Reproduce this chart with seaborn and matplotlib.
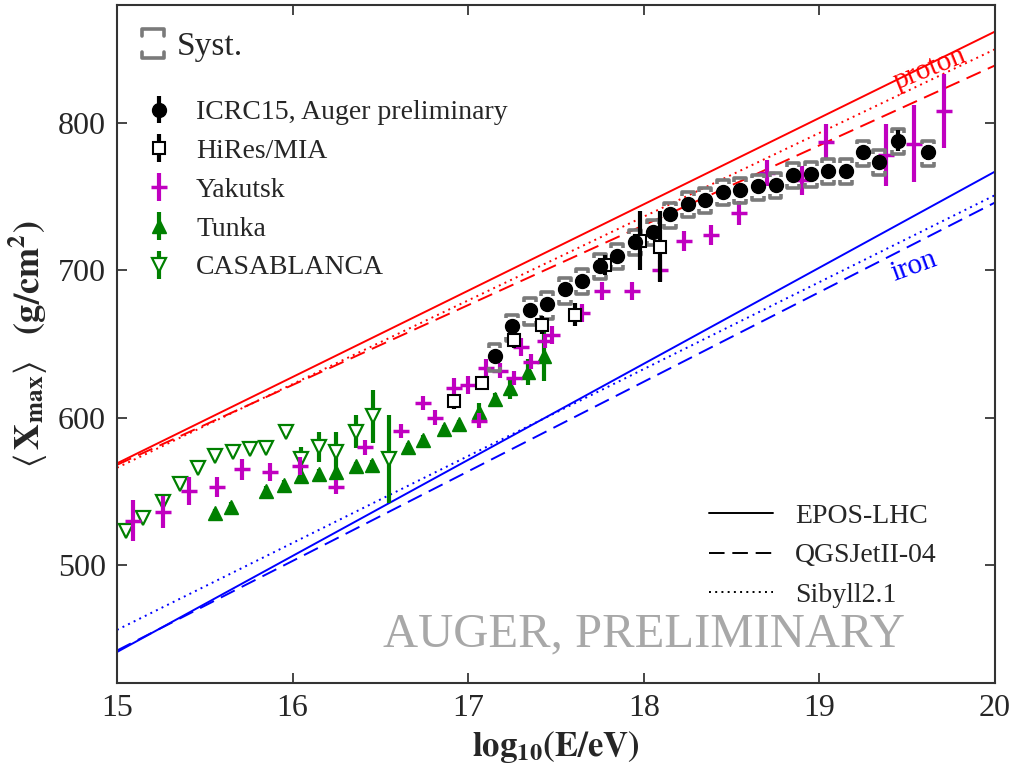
import numpy as np
import pandas as pd
import matplotlib
matplotlib.use("Agg")
import matplotlib.pyplot as plt
import seaborn as sns
from matplotlib.lines import Line2D
from matplotlib.legend_handler import HandlerBase

# ---------------- data ----------------
# Pierre Auger (ICRC 2015, preliminary)
auger_lgE = [17.15, 17.25, 17.35, 17.45, 17.55, 17.65, 17.75, 17.85, 17.95, 18.05,
             18.15, 18.25, 18.35, 18.45, 18.55, 18.65, 18.75, 18.85, 18.95, 19.05,
             19.15, 19.25, 19.34, 19.45, 19.62]
auger_xmax = [642, 662, 673, 677, 687, 693, 703, 710, 719.5, 726,
              738, 745, 748, 753, 754.5, 757, 758, 765, 765.5, 767.5,
              767.5, 780, 773.5, 788, 780]
auger_err = [3, 3, 2, 2, 2, 2, 2, 2, 2, 2,
             2, 2, 2, 2, 2, 2, 2, 2, 3, 3,
             3, 4, 5, 7, 5]
auger_sys_up = [8, 8, 8, 8, 8, 8, 8, 8, 8, 8,
                8, 8, 8, 8, 8, 8, 8, 8, 8, 8,
                8, 8, 8, 8, 8]
auger_sys_lo = [10, 10, 10, 10, 10, 9, 9, 9, 9, 9,
                9, 9, 9, 9, 9, 9, 9, 9, 9, 9,
                9, 9, 9, 9, 9]

# HiRes/MIA
hires_lgE = [16.92, 17.08, 17.26, 17.42, 17.61, 17.78, 17.98, 18.09]
hires_xmax = [611, 623.5, 653, 663, 670, 703.5, 720, 716]
hires_err = [5, 5, 6, 6, 8, 7, 20, 24]

# Yakutsk
yak_lgE = [15.09, 15.26, 15.41, 15.57, 15.71, 15.87, 16.04, 16.25, 16.41, 16.62,
           16.74, 16.81, 16.92, 17.00, 17.06, 17.10, 17.18, 17.26, 17.30, 17.36,
           17.44, 17.48, 17.65, 17.76, 17.93, 18.09, 18.23, 18.38, 18.54, 18.70,
           18.90, 19.04, 19.38, 19.54, 19.71]
yak_xmax = [530, 536, 550, 553, 565, 563, 567, 553, 580, 591,
            610, 600, 620, 622, 598, 634, 632, 627, 648, 638,
            652, 656, 671, 686, 686, 700, 720, 724, 739, 766,
            761, 787, 778, 786, 808]
yak_err = [14, 11, 9.5, 7, 7, 6, 6, 5, 5, 5,
           5, 5, 7, 6, 5, 6, 5, 5, 6, 5,
           5, 6, 6, 6, 6, 7, 7, 7, 8, 9,
           10, 12, 21, 26, 25]

# Tunka-133
tunka_lgE = [15.56, 15.65, 15.85, 15.95, 16.05, 16.15, 16.25, 16.36, 16.45,
             16.66, 16.74, 16.86, 16.95, 17.06, 17.15, 17.24, 17.34, 17.43]
tunka_xmax = [535, 539.5, 550.5, 554.5, 560.5, 562, 563, 567, 568,
              580, 585, 592, 595.5, 604, 613, 620, 631, 642]
tunka_err = [3, 3, 3, 3, 3, 3, 3, 3, 3,
             3, 3, 3, 3, 6, 4, 7, 9, 17]

# CASA-BLANCA
casa_lgE = [15.05, 15.15, 15.26, 15.36, 15.46, 15.56, 15.66, 15.76, 15.85, 15.96,
            16.05, 16.15, 16.25, 16.36, 16.46, 16.55]
casa_xmax = [523, 532, 543, 555, 566, 574, 577, 579, 579.5, 590.5,
             572, 580, 577, 590.5, 601, 572]
casa_err = [3, 3, 3, 3, 3, 3, 3, 3, 3, 3,
            8, 10, 13, 11, 18, 30]

# Hadronic-model expectations, <Xmax> at lg(E/eV) = 15 and 20
model_lgE = [15, 20]
proton_epos = [569, 862]
proton_qgsjet = [568, 839]
proton_sibyll = [566, 850]
iron_epos = [441, 767]
iron_qgsjet = [442, 746]
iron_sibyll = [456, 751]

x_ticks = [15, 16, 17, 18, 19, 20]
y_ticks = [500, 600, 700, 800]

# ---------------- style ----------------
sns.set_style("ticks")
plt.rcParams["font.family"] = ["Liberation Serif", "DejaVu Serif"]
plt.rcParams["mathtext.fontset"] = "stix"

MAG = "#c000c0"
GRN = "#008000"
SYS = "#7a7a7a"

fig = plt.figure(figsize=(10.17, 7.72), dpi=100)
ax = fig.add_axes([0.1150, 0.1153, 0.8634, 0.8782])

# ---------------- model lines ----------------
styles = {"EPOS-LHC": "-", "QGSJetII-04": (0, (8, 4)), "Sibyll2.1": (0, (1, 2.2))}
models = {
    ("proton", "EPOS-LHC"): proton_epos,
    ("proton", "QGSJetII-04"): proton_qgsjet,
    ("proton", "Sibyll2.1"): proton_sibyll,
    ("iron", "EPOS-LHC"): iron_epos,
    ("iron", "QGSJetII-04"): iron_qgsjet,
    ("iron", "Sibyll2.1"): iron_sibyll,
}
for (prim, name), vals in models.items():
    df = pd.DataFrame({"lgE": model_lgE, "xmax": vals})
    sns.lineplot(data=df, x="lgE", y="xmax", ax=ax, legend=False,
                 color="red" if prim == "proton" else "blue",
                 linestyle=styles[name], lw=1.4, zorder=1)

# ---------------- measurements ----------------
ax.errorbar(casa_lgE, casa_xmax, yerr=casa_err, fmt="v", ms=10, mfc="white",
            mec=GRN, mew=1.6, color=GRN, elinewidth=3, capsize=0, zorder=3,
            label="CASABLANCA")
ax.errorbar(tunka_lgE, tunka_xmax, yerr=tunka_err, fmt="^", ms=10, mfc=GRN,
            mec=GRN, color=GRN, elinewidth=3, capsize=0, zorder=3, label="Tunka")
ax.errorbar(yak_lgE, yak_xmax, yerr=yak_err, fmt="_", ms=11, mew=2.5,
            color=MAG, elinewidth=3, capsize=0, zorder=4, label="Yakutsk")


def bracket_path(xs, ys, offs, sign, half_w=0.034, tick=2.6):
    px, py = [], []
    for x, y, o in zip(xs, ys, offs):
        yb = y + sign * o
        yt = yb - sign * tick
        px += [x - half_w, x - half_w, x + half_w, x + half_w, np.nan]
        py += [yt, yb, yb, yt, np.nan]
    return px, py


for offs, sign in ((auger_sys_up, 1), (auger_sys_lo, -1)):
    bx, by = bracket_path(auger_lgE, auger_xmax, offs, sign)
    ax.plot(bx, by, color=SYS, lw=2.6, solid_capstyle="butt", zorder=5)

ax.errorbar(hires_lgE, hires_xmax, yerr=hires_err, fmt="s", ms=9, mfc="white",
            mec="black", mew=1.5, color="black", elinewidth=3, capsize=0,
            zorder=6, label="HiRes/MIA")
ax.errorbar(auger_lgE, auger_xmax, yerr=auger_err, fmt="o", ms=10,
            color="black", elinewidth=3, capsize=0, zorder=7,
            label="ICRC15, Auger preliminary")

# ---------------- axes ----------------
ax.set_xlim(15, 20)
ax.set_ylim(420, 880)
ax.set_xticks(x_ticks)
ax.set_yticks(y_ticks)
ax.tick_params(direction="in", top=True, right=True, length=7, width=1.2,
               labelsize=23, pad=8)
for s in ax.spines.values():
    s.set_linewidth(1.5)
    s.set_color("#333333")

ax.set_xlabel(r"$\mathbf{log}_{\mathbf{10}}\mathbf{(E/eV)}$", fontsize=25, labelpad=4)
ax.set_ylabel(r"$\left\langle\,\mathbf{X}_{\mathbf{max}}\right\rangle\quad\mathbf{(g/cm^{2})}$",
              fontsize=26, labelpad=6)

ax.text(19.63, 837, "proton", color="red", fontsize=21, rotation=22,
        ha="center", va="center")
ax.text(19.54, 703, "iron", color="blue", fontsize=21, rotation=20,
        ha="center", va="center")
ax.text(18.0, 453, "AUGER, PRELIMINARY", color="#a8a8a8", fontsize=35,
        ha="center", va="center")

# ---------------- legends ----------------
class BracketHandler(HandlerBase):
    def create_artists(self, legend, orig_handle, xdescent, ydescent,
                       width, height, fontsize, trans):
        x0 = -xdescent + width * 0.05
        x1 = x0 + width * 0.9
        yt = -ydescent + height * 1.05
        yb = -ydescent - height * 0.05
        t = height * 0.25
        top = Line2D([x0, x0, x1, x1], [yt - t, yt, yt, yt - t], color=SYS,
                     lw=2.6, transform=trans)
        bot = Line2D([x0, x0, x1, x1], [yb + t, yb, yb, yb + t], color=SYS,
                     lw=2.6, transform=trans)
        return [top, bot]


sys_handle = Line2D([], [])
leg_sys = ax.legend([sys_handle], ["Syst."], handler_map={Line2D: BracketHandler()},
                    loc="upper left", bbox_to_anchor=(0.0, 0.997), frameon=False,
                    fontsize=24, handlelength=0.75, handleheight=0.85,
                    handletextpad=0.35, borderaxespad=0.3)
ax.add_artist(leg_sys)

h, l = ax.get_legend_handles_labels()
order = ["ICRC15, Auger preliminary", "HiRes/MIA", "Yakutsk", "Tunka", "CASABLANCA"]
hmap = dict(zip(l, h))
leg_data = ax.legend([hmap[k] for k in order], order, loc="upper left",
                     bbox_to_anchor=(0.0, 0.897), frameon=False, fontsize=20,
                     handlelength=1.2, handletextpad=0.75, labelspacing=0.48)
ax.add_artist(leg_data)

model_handles = [Line2D([], [], color="black", lw=1.4, linestyle=styles[k])
                 for k in styles]
ax.legend(model_handles, list(styles), loc="lower right",
          bbox_to_anchor=(0.962, 0.074), frameon=False, fontsize=20,
          handlelength=2.3, handletextpad=0.8, labelspacing=0.5)

fig.savefig("out.png", dpi=100)
